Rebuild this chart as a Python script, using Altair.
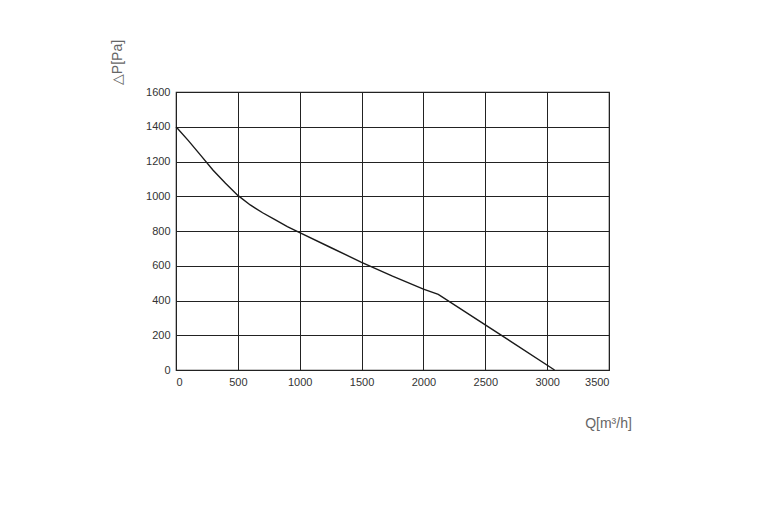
import altair as alt
import pandas as pd

q_values = [0, 100, 200, 300, 400, 500, 600, 700, 800, 900, 1000, 1250, 1500, 1750, 2000, 2120, 2500, 3060]
p_values = [1400, 1320, 1235, 1150, 1075, 1005, 950, 905, 865, 825, 790, 705, 620, 540, 465, 435, 260, 0]
x_ticks = [0, 500, 1000, 1500, 2000, 2500, 3000, 3500]
y_ticks = [0, 200, 400, 600, 800, 1000, 1200, 1400, 1600]

df = pd.DataFrame({"Q": q_values, "P": p_values})

chart = alt.Chart(df).mark_line(color="#1a1a1a", strokeWidth=1.4).encode(
    x=alt.X("Q:Q", scale=alt.Scale(domain=[0, 3500], nice=False),
            axis=alt.Axis(values=x_ticks, format="d", title="Q[m³/h]", titleX=432, titleY=46,
                          titleAlign="center", titleAngle=0)),
    y=alt.Y("P:Q", scale=alt.Scale(domain=[0, 1600], nice=False),
            axis=alt.Axis(values=y_ticks, format="d", title="△P[Pa]", titleX=-52, titleY=-30,
                          titleAlign="center", titleAngle=270)),
).properties(
    width=433, height=278,
    autosize=alt.AutoSizeParams(type="none"),
    padding={"left": 168, "top": 84, "right": 100, "bottom": 100},
).configure_view(
    stroke="#222", strokeWidth=1.2
).configure_axis(
    grid=True, gridColor="#222", gridWidth=1, gridOpacity=1,
    domain=False, ticks=False,
    labelFont="Liberation Sans", labelFontSize=11, labelColor="#333", labelPadding=6,
    titleFont="Liberation Sans", titleFontSize=14, titleColor="#666", titleFontWeight="normal",
)

chart.save("out.html", embed_options={"renderer": "svg", "actions": False})
